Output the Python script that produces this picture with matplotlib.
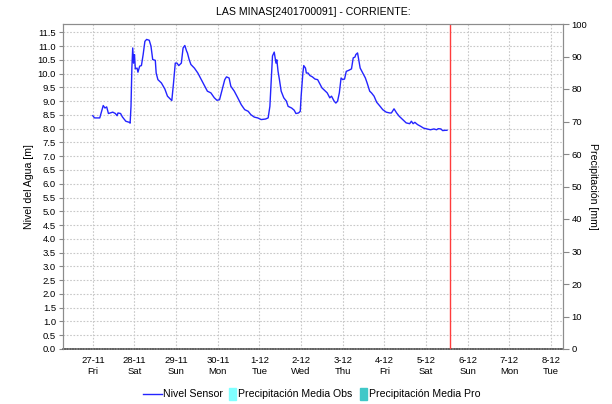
import matplotlib
matplotlib.use("Agg")
import matplotlib.pyplot as plt
import matplotlib.ticker as mticker
import pandas as pd
from matplotlib.lines import Line2D
from matplotlib.patches import Rectangle

plt.rcParams['font.family'] = ['Liberation Sans', 'DejaVu Sans']

# ---- data -------------------------------------------------------------
title = "LAS MINAS[2401700091] - CORRIENTE:"
left_label = "Nivel del Agua [m]"
right_label = "Precipitación [mm]"
legend_labels = ["Nivel Sensor", "Precipitación Media Obs", "Precipitación Media Pro"]

series_start = pd.Timestamp("2020-11-27 00:00")
# hours elapsed since series_start
nivel_hours = [
    0, 1, 4, 6, 7, 8, 9, 11.5, 13, 14, 14.5, 16, 17, 18, 19, 21, 21.5, 22, 22.5, 23,
    23.5, 24, 24.5, 25.5, 26, 27, 28, 29, 30, 31, 32.5, 33.5, 34.5, 36, 36.5, 37.5,
    39.5, 41.5, 43, 45, 45.5, 46.5, 47.5, 48.5, 49.5, 51, 52, 53, 54, 54.5, 55.5,
    56.5, 58.5, 60.5, 62.5, 64.5, 66, 68, 70, 71.5, 73, 74.5, 76, 77, 78.5, 79.5,
    81.5, 83.5, 85.5, 87.5, 89.5, 91, 93, 95, 97, 99.5, 101, 102, 103, 103.5, 104.5,
    105.5, 106, 106.7, 107.5, 108.5, 110, 111.5, 112.5, 114.5, 116, 117, 118.5,
    119.5, 120, 121, 121.5, 122.5, 123, 124, 125, 126.5, 128, 129.5, 130.5, 132,
    133.5, 135, 136.5, 137.5, 139, 140, 141, 142, 143, 144, 145, 146, 147.5, 149,
    150, 151, 151.5, 152.5, 153, 154, 155.5, 157, 158, 159.5, 160.5, 162, 163.5,
    165.5, 167, 169, 171, 172, 173.5, 175, 176.5, 178.5, 180.5, 182.5, 183.5,
    184.5, 185.5, 187, 189, 190.5, 192.5, 194.5, 196.5, 198, 199, 200.5, 201.5,
    203, 204,
]
nivel_sensor = [
    8.47, 8.39, 8.39, 8.84, 8.75, 8.79, 8.55, 8.60, 8.55, 8.47, 8.57, 8.55, 8.43,
    8.35, 8.27, 8.23, 8.20, 8.81, 10.20, 10.93, 10.38, 10.69, 10.17, 10.20, 10.05,
    10.27, 10.29, 10.69, 11.17, 11.24, 11.21, 11.00, 10.51, 10.48, 10.02, 9.78,
    9.66, 9.44, 9.18, 9.05, 9.02, 9.66, 10.38, 10.38, 10.29, 10.38, 10.93, 11.02,
    10.82, 10.75, 10.51, 10.33, 10.20, 10.02, 9.78, 9.54, 9.36, 9.30, 9.12, 9.03,
    9.05, 9.42, 9.78, 9.88, 9.84, 9.54, 9.36, 9.12, 8.87, 8.69, 8.63, 8.51, 8.42,
    8.39, 8.33, 8.35, 8.39, 8.81, 10.02, 10.64, 10.78, 10.38, 10.50, 10.08, 9.78,
    9.36, 9.12, 9.00, 8.81, 8.75, 8.67, 8.55, 8.57, 8.63, 9.18, 10.02, 10.29,
    10.20, 10.02, 10.02, 9.93, 9.88, 9.80, 9.78, 9.66, 9.48, 9.39, 9.30, 9.12,
    9.18, 9.00, 8.93, 9.00, 9.30, 9.84, 9.78, 9.80, 10.08, 10.12, 10.17, 10.57,
    10.60, 10.69, 10.75, 10.57, 10.20, 10.02, 9.84, 9.66, 9.36, 9.30, 9.18, 8.96,
    8.81, 8.69, 8.60, 8.57, 8.57, 8.72, 8.57, 8.45, 8.33, 8.21, 8.18, 8.27, 8.18,
    8.23, 8.15, 8.08, 8.02, 7.99, 7.96, 7.99, 7.96, 8.00, 7.99, 7.93, 7.94, 7.94,
]

# no rainfall recorded or forecast in the period
precip_obs = []
precip_pro = []

now_marker = pd.Timestamp("2020-12-05 13:40")
view_start = pd.Timestamp("2020-11-26 06:50")
view_end = pd.Timestamp("2020-12-08 06:50")
day_ticks = pd.date_range("2020-11-27", "2020-12-08", freq="D")
level_ticks = [i * 0.5 for i in range(24)]
precip_ticks = list(range(0, 101, 10))

# ---- figure -----------------------------------------------------------
W, H = 612, 404
fig = plt.figure(figsize=(W / 100, H / 100), dpi=100)


def fx(x):
    return x / W


def fy(y):
    return 1 - y / H


left, right, top, bottom = 63, 563, 24, 349
ax = fig.add_axes([fx(left), fy(bottom), (right - left) / W, (bottom - top) / H])
ax2 = ax.twinx()

times = [series_start + pd.Timedelta(hours=h) for h in nivel_hours]
ax.plot(times, nivel_sensor, color="#2424ff", lw=1.0, zorder=3)
ax.axvline(now_marker, color="#ff3c3c", lw=1.0, zorder=4)

if precip_obs:
    ax2.bar([t for t, _ in precip_obs], [v for _, v in precip_obs],
            width=1 / 24, color="#80ffff")
if precip_pro:
    ax2.bar([t for t, _ in precip_pro], [v for _, v in precip_pro],
            width=1 / 24, color="#40c8c8")

ax.set_xlim(view_start, view_end)
ax.set_ylim(0, 11.8)
ax2.set_ylim(0, 100)

ax.set_xticks(day_ticks)
ax.set_xticklabels([f"{d.day}-{d.month}\n{d.strftime('%a')}" for d in day_ticks],
                   fontsize=6.8, linespacing=1.25)
ax.set_yticks(level_ticks)
ax.yaxis.set_major_formatter(mticker.FormatStrFormatter("%.1f"))
ax2.set_yticks(precip_ticks)

ax.tick_params(axis="y", labelsize=6.8, length=3, pad=2, color="#888888")
ax.tick_params(axis="x", length=0, pad=5)
ax2.tick_params(axis="y", labelsize=6.8, length=4, pad=2, color="#888888")

ax.grid(True, color="#c8c8c8", linestyle=(0, (1.5, 1.5)), lw=0.8)
ax.set_axisbelow(True)

for a in (ax, ax2):
    for s in ("left", "right", "top"):
        a.spines[s].set_color("#8c8c8c")
        a.spines[s].set_linewidth(0.8)
ax2.spines["bottom"].set_visible(False)
ax.spines["bottom"].set_color("#606060")
ax.spines["bottom"].set_linestyle((0, (0.8, 0.8)))
ax.spines["bottom"].set_linewidth(1.2)

fig.text(fx(313), fy(12), title, ha="center", va="center", fontsize=7.6)
fig.text(fx(29), fy(186.5), left_label, rotation=90, ha="center", va="center",
         fontsize=7.6)
fig.text(fx(593), fy(186.5), right_label, rotation=270, ha="center", va="center",
         fontsize=7.6)

# ---- legend -----------------------------------------------------------
ly = 394
fig.add_artist(Line2D([fx(143), fx(162)], [fy(ly), fy(ly)], color="#2424ff", lw=1.0,
                      transform=fig.transFigure))
fig.text(fx(163), fy(ly), legend_labels[0], ha="left", va="center", fontsize=7.6)
fig.add_artist(Rectangle((fx(229), fy(400)), 7 / W, 12 / H, color="#80ffff",
                         transform=fig.transFigure))
fig.text(fx(238), fy(ly), legend_labels[1], ha="left", va="center", fontsize=7.6)
fig.add_artist(Rectangle((fx(360), fy(400)), 7 / W, 12 / H, color="#40c8c8",
                         transform=fig.transFigure))
fig.text(fx(369), fy(ly), legend_labels[2], ha="left", va="center", fontsize=7.6)

fig.savefig("out.png", dpi=100)
